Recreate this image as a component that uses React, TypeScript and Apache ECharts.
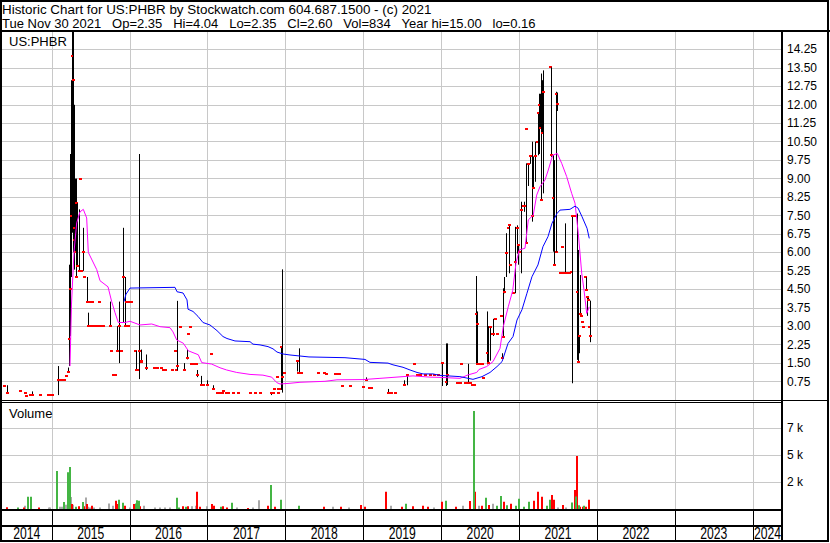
import React, { useEffect, useRef } from 'react';
import * as echarts from 'echarts';

const FONT = '"Liberation Sans", Arial, Helvetica, sans-serif';

// visible time window (decimal years)
const X_MIN = 2014.362;
const X_MAX = 2024.375;

const yearBoundaries = [2015, 2016, 2017, 2018, 2019, 2020, 2021, 2022, 2023, 2024];
const yearLabels = [2014, 2015, 2016, 2017, 2018, 2019, 2020, 2021, 2022, 2023, 2024];

const headerLine1 = 'Historic Chart for US:PHBR by Stockwatch.com 604.687.1500 - (c) 2021';
const headerFields = ['Tue Nov 30 2021', 'Op=2.35', 'Hi=4.04', 'Lo=2.35', 'Cl=2.60', 'Vol=834', 'Year hi=15.00', 'lo=0.16'];
const symbolLabel = 'US:PHBR';
const volumeLabel = 'Volume';

// [date (decimal year), low, high, close]
const priceBars: number[][] = [
  [2014.388, 0.57, 0.57, 0.57], [2014.430, 0.30, 0.60, 0.30], [2014.593, 0.37, 0.37, 0.37],
  [2014.657, 0.30, 0.30, 0.30], [2014.670, 0.16, 0.16, 0.16], [2014.721, 0.20, 0.20, 0.20],
  [2014.747, 0.20, 0.35, 0.20], [2014.850, 0.20, 0.20, 0.20], [2014.953, 0.20, 0.20, 0.20],
  [2014.978, 0.20, 0.20, 0.20], [2015.004, 0.20, 0.20, 0.20],
  [2015.085, 0.20, 1.38, 0.80], [2015.107, 0.80, 0.80, 0.80], [2015.132, 0.80, 0.80, 0.80],
  [2015.158, 0.80, 0.80, 0.80], [2015.184, 0.98, 0.98, 0.98], [2015.213, 1.14, 1.32, 1.14],
  [2015.226, 1.38, 5.50, 2.50], [2015.239, 2.60, 10.00, 4.50], [2015.248, 5.00, 13.00, 7.50],
  [2015.261, 6.80, 15.00, 14.00], [2015.273, 6.00, 15.00, 13.00], [2015.280, 6.00, 12.00, 6.50],
  [2015.286, 5.30, 9.00, 7.00], [2015.299, 6.00, 9.00, 6.00], [2015.308, 5.00, 9.00, 5.00],
  [2015.318, 8.00, 8.00, 8.00], [2015.329, 5.45, 8.00, 5.45], [2015.350, 5.25, 7.75, 5.25],
  [2015.359, 9.00, 9.00, 9.00], [2015.370, 5.25, 5.25, 5.25], [2015.398, 5.25, 7.00, 6.00],
  [2015.415, 5.00, 5.00, 5.00], [2015.457, 4.00, 5.00, 4.00], [2015.466, 3.00, 3.55, 3.00],
  [2015.480, 4.00, 4.00, 4.00], [2015.492, 4.00, 4.00, 4.00], [2015.505, 3.00, 3.00, 3.00],
  [2015.517, 4.00, 4.00, 4.00], [2015.530, 3.00, 3.00, 3.00], [2015.543, 3.00, 3.00, 3.00],
  [2015.582, 3.00, 3.00, 3.00], [2015.607, 4.00, 4.00, 4.00], [2015.620, 3.00, 3.00, 3.00],
  [2015.659, 3.00, 3.00, 3.00], [2015.748, 3.00, 4.00, 3.00], [2015.761, 2.00, 2.00, 2.00],
  [2015.787, 1.00, 1.00, 1.00], [2015.813, 1.00, 1.00, 1.00], [2015.834, 2.00, 3.00, 2.00],
  [2015.851, 2.00, 2.00, 2.00], [2015.868, 1.50, 4.00, 3.00], [2015.886, 2.00, 2.00, 2.00],
  [2015.915, 3.15, 7.00, 5.00], [2015.937, 3.00, 5.00, 3.00], [2015.954, 4.00, 4.00, 4.00],
  [2015.979, 3.00, 3.00, 3.00], [2015.992, 4.00, 4.00, 4.00], [2016.018, 4.00, 4.00, 4.00],
  [2016.069, 2.00, 2.00, 2.00], [2016.078, 1.20, 2.00, 1.20], [2016.095, 1.20, 1.20, 1.20],
  [2016.125, 0.85, 10.00, 2.00], [2016.140, 1.55, 1.55, 1.55], [2016.150, 1.60, 2.05, 1.60],
  [2016.207, 1.22, 1.85, 1.32], [2016.313, 1.32, 1.32, 1.32], [2016.352, 1.32, 1.32, 1.32],
  [2016.403, 1.32, 1.32, 1.32], [2016.429, 1.20, 1.20, 1.20], [2016.454, 1.20, 1.20, 1.20],
  [2016.544, 1.20, 1.20, 1.20], [2016.583, 2.00, 2.00, 2.00], [2016.600, 1.20, 1.20, 1.20],
  [2016.612, 1.20, 4.03, 1.37], [2016.647, 2.98, 2.98, 2.98], [2016.702, 1.20, 1.50, 1.20],
  [2016.733, 1.65, 2.05, 1.70], [2016.750, 2.70, 2.70, 2.70], [2016.769, 2.98, 2.98, 2.98],
  [2016.782, 1.47, 1.47, 1.47], [2016.814, 1.47, 1.47, 1.47], [2016.846, 1.47, 1.47, 1.47],
  [2016.869, 0.93, 1.22, 1.00], [2016.917, 0.61, 0.98, 0.61], [2016.942, 0.61, 0.61, 0.61],
  [2016.997, 0.60, 0.80, 0.61],
  [2017.041, 1.88, 1.88, 1.88], [2017.067, 0.45, 0.60, 0.45], [2017.122, 0.30, 0.30, 0.30],
  [2017.160, 0.30, 0.30, 0.30], [2017.186, 0.30, 0.30, 0.30], [2017.205, 0.38, 0.38, 0.38],
  [2017.238, 0.30, 0.30, 0.30], [2017.257, 0.30, 0.30, 0.30], [2017.327, 0.30, 0.30, 0.30],
  [2017.392, 0.30, 0.30, 0.30], [2017.546, 0.30, 0.30, 0.30], [2017.610, 0.30, 0.30, 0.30],
  [2017.674, 0.30, 0.30, 0.30], [2017.815, 0.20, 0.30, 0.30], [2017.837, 0.30, 0.30, 0.30],
  [2017.854, 0.44, 0.44, 0.44], [2017.888, 0.95, 0.95, 0.95], [2017.899, 0.44, 0.44, 0.44],
  [2017.909, 0.30, 0.30, 0.30], [2017.924, 0.44, 0.44, 0.44], [2017.944, 0.41, 2.14, 2.14],
  [2017.960, 0.30, 5.31, 0.95], [2017.976, 1.10, 1.10, 1.10],
  [2018.145, 1.16, 1.60, 1.60], [2018.162, 1.10, 1.10, 1.10], [2018.179, 1.10, 2.10, 1.10],
  [2018.196, 1.10, 1.10, 1.10], [2018.415, 1.10, 1.10, 1.10], [2018.496, 1.10, 1.10, 1.10],
  [2018.517, 1.05, 1.05, 1.05], [2018.637, 1.05, 1.05, 1.05], [2018.662, 1.05, 1.05, 1.05],
  [2018.688, 1.05, 1.05, 1.05], [2018.723, 0.58, 0.58, 0.58], [2018.829, 0.58, 0.58, 0.58],
  [2018.992, 0.54, 0.54, 0.54],
  [2019.035, 0.80, 0.92, 0.80], [2019.073, 0.50, 0.50, 0.50], [2019.099, 0.50, 0.50, 0.50],
  [2019.313, 0.30, 0.45, 0.30], [2019.356, 0.30, 0.30, 0.30], [2019.407, 0.30, 0.30, 0.30],
  [2019.523, 0.60, 0.80, 0.60], [2019.565, 0.60, 1.00, 1.00], [2019.651, 1.47, 1.47, 1.47],
  [2019.689, 1.00, 1.00, 1.00], [2019.728, 1.00, 1.00, 1.00], [2019.792, 1.00, 1.00, 1.00],
  [2019.856, 1.00, 1.00, 1.00], [2019.908, 1.00, 1.00, 1.00], [2019.965, 1.00, 1.00, 1.00],
  [2020.006, 0.57, 1.50, 1.50], [2020.058, 0.57, 2.30, 0.75], [2020.075, 0.61, 2.30, 1.00],
  [2020.203, 0.68, 0.68, 0.68], [2020.241, 0.68, 0.68, 0.68], [2020.250, 1.47, 1.47, 1.47],
  [2020.306, 0.68, 0.68, 0.68], [2020.348, 0.68, 1.47, 0.68], [2020.370, 0.68, 0.68, 0.68],
  [2020.396, 0.61, 0.61, 0.61], [2020.421, 0.61, 0.61, 0.61], [2020.443, 1.50, 5.04, 3.50],
  [2020.456, 1.50, 3.60, 3.10], [2020.466, 1.47, 1.47, 1.47], [2020.498, 1.47, 1.47, 1.47],
  [2020.524, 1.47, 1.47, 1.47], [2020.541, 0.88, 0.88, 0.88], [2020.584, 1.45, 3.60, 1.90],
  [2020.605, 1.50, 3.00, 1.50], [2020.627, 1.60, 2.98, 2.98], [2020.652, 2.70, 2.70, 2.70],
  [2020.669, 2.60, 3.30, 2.70], [2020.691, 3.28, 3.28, 3.28], [2020.717, 2.70, 2.70, 2.70],
  [2020.768, 3.40, 3.40, 3.40], [2020.781, 1.70, 1.90, 1.70], [2020.790, 2.58, 4.54, 2.58],
  [2020.807, 4.34, 5.00, 4.40], [2020.832, 5.00, 6.78, 5.96], [2020.854, 7.00, 7.00, 7.00],
  [2020.871, 5.15, 7.10, 7.10], [2020.883, 5.49, 5.49, 5.49], [2020.921, 4.34, 4.34, 4.34],
  [2020.947, 4.34, 7.04, 5.60], [2020.969, 5.95, 7.10, 7.00], [2020.982, 5.50, 6.30, 6.30],
  [2020.999, 6.00, 6.00, 6.00],
  [2021.021, 5.15, 8.06, 7.72], [2021.046, 7.90, 7.90, 7.90], [2021.063, 7.65, 8.06, 7.90],
  [2021.089, 6.40, 9.62, 6.40], [2021.095, 11.00, 11.00, 11.00], [2021.118, 8.70, 9.60, 9.60],
  [2021.140, 9.60, 9.90, 9.90], [2021.162, 7.25, 10.50, 7.48], [2021.182, 8.60, 9.90, 8.60],
  [2021.204, 8.87, 10.50, 9.90], [2021.226, 10.50, 10.50, 10.50], [2021.239, 9.95, 11.65, 11.65],
  [2021.255, 10.00, 12.45, 12.00], [2021.268, 11.05, 12.45, 11.05], [2021.281, 8.13, 13.27, 8.13],
  [2021.297, 10.84, 13.00, 10.84], [2021.311, 8.40, 13.40, 12.53], [2021.397, 13.52, 13.52, 13.52],
  [2021.409, 9.88, 13.52, 9.95], [2021.431, 6.03, 9.95, 8.20], [2021.448, 5.48, 9.75, 5.50],
  [2021.470, 6.03, 6.03, 6.03], [2021.480, 6.03, 12.53, 12.45], [2021.491, 11.75, 12.50, 12.05],
  [2021.525, 5.18, 5.18, 5.18], [2021.555, 6.23, 6.23, 6.23], [2021.570, 5.18, 5.18, 5.18],
  [2021.589, 5.15, 7.18, 5.18], [2021.615, 5.18, 5.18, 5.18], [2021.641, 5.18, 5.18, 5.18],
  [2021.666, 5.20, 5.20, 5.20], [2021.683, 0.68, 7.52, 7.49], [2021.698, 7.49, 7.49, 7.49],
  [2021.718, 7.49, 7.49, 7.49], [2021.740, 1.63, 7.58, 4.40], [2021.752, 1.56, 6.10, 1.56],
  [2021.765, 1.90, 2.60, 2.60], [2021.782, 3.50, 5.08, 3.50], [2021.797, 3.40, 3.40, 3.40],
  [2021.811, 3.16, 3.16, 3.16], [2021.824, 2.98, 3.00, 2.98], [2021.850, 4.99, 4.99, 4.99],
  [2021.863, 4.48, 4.99, 4.48], [2021.876, 3.42, 4.18, 4.18], [2021.888, 4.08, 4.15, 4.08],
  [2021.900, 2.98, 2.98, 2.98], [2021.912, 2.35, 4.04, 2.60],
];

// short moving average (magenta)
const maShort: number[][] = [
  [2015.235, 1.38], [2015.254, 3.9], [2015.286, 6.0], [2015.321, 7.2], [2015.363, 7.65],
  [2015.406, 7.75], [2015.449, 7.4], [2015.470, 6.0], [2015.578, 5.3], [2015.620, 4.85],
  [2015.723, 4.6], [2015.770, 4.0], [2015.813, 3.55], [2015.855, 3.15], [2015.941, 3.15],
  [2016.005, 3.2], [2016.134, 3.05], [2016.284, 3.09], [2016.391, 2.98], [2016.519, 2.94],
  [2016.557, 2.77], [2016.605, 2.44], [2016.689, 2.31], [2016.754, 2.0], [2016.882, 1.84],
  [2016.926, 1.52], [2017.054, 1.46], [2017.161, 1.31], [2017.246, 1.22], [2017.375, 1.12],
  [2017.546, 1.04], [2017.712, 1.01], [2017.824, 0.93], [2017.888, 0.71], [2017.931, 0.65],
  [2018.059, 0.68], [2018.187, 0.72], [2018.508, 0.76], [2018.662, 0.82], [2018.996, 0.83],
  [2019.214, 0.88], [2019.510, 0.95], [2019.638, 0.98], [2019.856, 0.93], [2019.985, 0.92],
  [2020.241, 0.88], [2020.344, 1.02], [2020.456, 1.12], [2020.485, 1.24], [2020.584, 1.36],
  [2020.665, 1.56], [2020.755, 2.1], [2020.797, 2.98], [2020.861, 3.79], [2020.918, 4.45],
  [2020.960, 5.56], [2021.003, 6.1], [2021.076, 6.17], [2021.118, 7.32], [2021.182, 7.52],
  [2021.226, 8.33], [2021.268, 8.67], [2021.332, 8.94], [2021.375, 9.35], [2021.431, 9.95],
  [2021.491, 10.02], [2021.547, 9.62], [2021.611, 9.08], [2021.675, 8.4], [2021.718, 8.0],
  [2021.760, 6.78], [2021.804, 5.15], [2021.833, 4.48], [2021.868, 3.52], [2021.901, 3.79],
];

// long moving average (blue)
const maLong: number[][] = [
  [2015.928, 4.0], [2015.954, 4.3], [2016.005, 4.55], [2016.583, 4.58], [2016.609, 4.4],
  [2016.686, 4.35], [2016.737, 4.07], [2016.750, 3.69], [2016.814, 3.6], [2016.878, 3.4],
  [2016.942, 3.15], [2017.032, 3.05], [2017.122, 2.82], [2017.199, 2.58], [2017.250, 2.5],
  [2017.353, 2.4], [2017.546, 2.37], [2017.584, 2.27], [2017.674, 2.24], [2017.777, 2.17],
  [2017.841, 2.08], [2017.892, 1.95], [2017.969, 1.87], [2018.059, 1.83], [2018.303, 1.75],
  [2018.765, 1.72], [2019.022, 1.65], [2019.086, 1.53], [2019.317, 1.5], [2019.381, 1.43],
  [2019.510, 1.33], [2019.600, 1.22], [2019.690, 1.12], [2019.767, 1.06], [2019.895, 1.06],
  [2019.985, 1.0], [2020.241, 0.95], [2020.408, 0.84], [2020.524, 0.95], [2020.627, 1.12],
  [2020.717, 1.36], [2020.781, 1.56], [2020.858, 2.3], [2020.922, 2.58], [2020.973, 3.25],
  [2021.037, 3.67], [2021.101, 4.34], [2021.165, 5.01], [2021.242, 5.49], [2021.306, 6.23],
  [2021.371, 6.64], [2021.422, 7.18], [2021.486, 7.58], [2021.525, 7.72], [2021.653, 7.75],
  [2021.718, 7.88], [2021.757, 7.8], [2021.808, 7.45], [2021.872, 6.98], [2021.901, 6.57],
];

// volume on up days (green)
const volUp: number[][] = [
  [2014.567, 150], [2014.702, 1140], [2014.740, 1140], [2015.072, 3520], [2015.162, 640],
  [2015.213, 3400], [2015.231, 3890], [2015.312, 200], [2015.398, 640], [2015.864, 860],
  [2015.919, 570], [2016.076, 500], [2016.101, 800], [2016.118, 770], [2016.605, 1050],
  [2016.628, 150], [2016.718, 200], [2017.169, 200], [2017.311, 590], [2017.820, 2220],
  [2017.949, 860], [2018.173, 290], [2019.552, 480], [2020.061, 770], [2020.415, 9070],
  [2020.570, 1050], [2020.720, 290], [2020.768, 1210], [2020.842, 350], [2020.958, 290],
  [2021.005, 960], [2021.059, 200], [2021.127, 670], [2021.352, 290], [2021.399, 860],
  [2021.675, 600], [2021.733, 1150], [2021.767, 350], [2021.832, 300],
];

// volume on down days (red)
const volDown: number[][] = [
  [2014.422, 160], [2014.644, 150], [2014.841, 150], [2015.264, 470], [2015.347, 250],
  [2015.415, 250], [2015.449, 470], [2015.517, 300], [2015.822, 770], [2015.851, 470],
  [2015.947, 300], [2016.056, 470], [2016.134, 250], [2016.689, 250], [2016.754, 250],
  [2016.861, 1600], [2016.904, 200], [2017.058, 470], [2017.083, 300], [2017.203, 250],
  [2017.254, 150], [2017.524, 100], [2017.777, 300], [2017.866, 200], [2018.492, 200],
  [2018.716, 200], [2018.974, 380], [2019.022, 200], [2019.294, 1600], [2019.497, 200],
  [2019.633, 250], [2019.769, 290], [2019.837, 200], [2020.006, 670], [2020.190, 200],
  [2020.367, 740], [2020.434, 1600], [2020.529, 290], [2020.617, 380], [2020.801, 670],
  [2020.890, 480], [2021.195, 770], [2021.249, 1600], [2021.297, 1140], [2021.419, 1290],
  [2021.445, 860], [2021.569, 380], [2021.723, 1760], [2021.741, 4910], [2021.788, 200],
  [2021.814, 200], [2021.859, 200], [2021.893, 860],
];

// volume on unchanged days (grey)
const volFlat: number[][] = [
  [2014.661, 290], [2014.959, 150], [2014.978, 150], [2015.107, 200], [2015.132, 200],
  [2015.180, 400], [2015.248, 1110], [2015.277, 400], [2015.440, 1060], [2015.466, 200],
  [2015.492, 150], [2015.543, 150], [2015.620, 150], [2015.739, 500], [2015.783, 300],
  [2016.005, 150], [2016.189, 300], [2016.326, 150], [2016.391, 150], [2016.454, 150],
  [2016.519, 150], [2016.797, 250], [2016.852, 300], [2016.990, 250], [2017.375, 150],
  [2017.588, 150], [2017.657, 800], [2018.615, 200], [2018.818, 150], [2019.362, 290],
  [2019.905, 150], [2020.279, 290], [2020.481, 300], [2020.665, 480], [2021.500, 150],
  [2021.602, 150],
];

const GRID_GRAY = '#c8c8c8';

function vGridSeries(gridIndex: number, color: string) {
  return {
    type: 'custom',
    xAxisIndex: gridIndex,
    yAxisIndex: gridIndex,
    silent: true,
    z: 1,
    data: yearBoundaries.map((y) => [y, 0]),
    encode: { x: 0, y: 1 },
    renderItem: (params: any, api: any) => {
      const cs = params.coordSys;
      const x = Math.round(api.coord([api.value(0), 0])[0]) + 0.5;
      return {
        type: 'line',
        shape: { x1: x, y1: cs.y, x2: x, y2: cs.y + cs.height },
        style: { stroke: color, lineWidth: 1 },
      };
    },
  };
}

function volSeries(data: number[][], color: string, z: number) {
  return {
    type: 'custom',
    xAxisIndex: 1,
    yAxisIndex: 1,
    silent: true,
    z,
    data,
    encode: { x: 0, y: 1 },
    renderItem: (params: any, api: any) => {
      const top = api.coord([api.value(0), api.value(1)]);
      const base = api.coord([api.value(0), 0]);
      const x = Math.round(top[0]) - 1;
      return {
        type: 'rect',
        shape: { x, y: top[1], width: 2, height: base[1] - top[1] },
        style: { fill: color },
      };
    },
  };
}

export default function App() {
  const ref = useRef<HTMLDivElement>(null);

  useEffect(() => {
    if (!ref.current) return;
    const chart = echarts.init(ref.current, undefined, { renderer: 'svg' });

    const sp = '\u00a0\u00a0\u00a0';
    const headerLine2 = headerFields.join(sp);

    const yearLabelData = yearLabels.map((y) => {
      const lo = Math.max(y, X_MIN);
      const hi = Math.min(y + 1, X_MAX);
      return [(lo + hi) / 2, 0.5, y];
    });

    const option: any = {
      animation: false,
      backgroundColor: '#ffffff',
      grid: [
        { left: 2, right: 48, top: 31, height: 369 },
        { left: 2, right: 48, top: 402, height: 107 },
        { left: 2, right: 48, top: 510, height: 31 },
      ],
      xAxis: [0, 1, 2].map((i) => ({
        type: 'value',
        gridIndex: i,
        min: X_MIN,
        max: X_MAX,
        show: false,
      })),
      yAxis: [
        {
          type: 'value',
          gridIndex: 0,
          position: 'right',
          min: 0,
          max: 15,
          interval: 0.75,
          axisLine: { show: false },
          axisTick: { show: false },
          axisLabel: {
            margin: 5,
            color: '#000',
            fontSize: 12,
            fontFamily: FONT,
            formatter: (v: number) => (v < 0.01 || v > 14.9 ? '' : v.toFixed(2)),
          },
          splitLine: { show: true, lineStyle: { color: GRID_GRAY, width: 1 } },
        },
        {
          type: 'value',
          gridIndex: 1,
          position: 'right',
          min: 0,
          max: 9907,
          interval: 2500,
          axisLine: { show: false },
          axisTick: { show: false },
          axisLabel: {
            margin: 5,
            color: '#000',
            fontSize: 12,
            fontFamily: FONT,
            formatter: (v: number) =>
              v > 0 && v < 9000 && Math.abs(v % 2500) < 1e-6 ? Math.floor(v / 1000) + ' k' : '',
          },
          splitLine: { show: true, lineStyle: { color: GRID_GRAY, width: 1 } },
        },
        { type: 'value', gridIndex: 2, min: 0, max: 2, show: false },
      ],
      series: [
        vGridSeries(0, GRID_GRAY),
        vGridSeries(1, GRID_GRAY),
        vGridSeries(2, '#000000'),
        {
          type: 'custom',
          xAxisIndex: 2,
          yAxisIndex: 2,
          silent: true,
          z: 3,
          data: yearLabelData,
          encode: { x: 0, y: 1 },
          renderItem: (params: any, api: any) => {
            const p = api.coord([api.value(0), api.value(1)]);
            return {
              type: 'text',
              x: p[0],
              y: p[1],
              scaleX: 0.76,
              style: {
                text: String(api.value(2)),
                fill: '#000',
                fontSize: 16,
                fontFamily: FONT,
                align: 'center',
                verticalAlign: 'middle',
              },
            };
          },
        },
        {
          type: 'custom',
          xAxisIndex: 0,
          yAxisIndex: 0,
          silent: true,
          z: 3,
          data: priceBars,
          encode: { x: 0, y: [1, 2, 3] },
          renderItem: (params: any, api: any) => {
            const t = api.value(0);
            const lo = api.value(1);
            const hi = api.value(2);
            const cl = api.value(3);
            const pH = api.coord([t, hi]);
            const pL = api.coord([t, lo]);
            const pC = api.coord([t, cl]);
            const x = Math.round(pH[0]);
            const children: any[] = [];
            if (hi > lo) {
              children.push({
                type: 'line',
                shape: { x1: x + 0.5, y1: pH[1], x2: x + 0.5, y2: pL[1] },
                style: { stroke: '#000', lineWidth: 1 },
              });
            }
            children.push({
              type: 'rect',
              shape: { x: x - 1, y: Math.round(pC[1]) - 1, width: 3, height: 2 },
              style: { fill: '#ff0000' },
            });
            return { type: 'group', children };
          },
        },
        {
          type: 'line',
          xAxisIndex: 0,
          yAxisIndex: 0,
          data: maShort,
          showSymbol: false,
          silent: true,
          z: 5,
          lineStyle: { color: '#ff00ff', width: 1 },
        },
        {
          type: 'line',
          xAxisIndex: 0,
          yAxisIndex: 0,
          data: maLong,
          showSymbol: false,
          silent: true,
          z: 5,
          lineStyle: { color: '#0000ff', width: 1 },
        },
        volSeries(volFlat, '#a8a8a8', 3),
        volSeries(volDown, '#ff0000', 4),
        volSeries(volUp, '#44b544', 5),
      ],
      graphic: [
        {
          type: 'rect',
          z: 100,
          silent: true,
          shape: { x: 1, y: 1, width: 827, height: 540 },
          style: { fill: 'none', stroke: '#000', lineWidth: 2 },
        },
        { type: 'line', z: 100, silent: true, shape: { x1: 0, y1: 31, x2: 830, y2: 31 }, style: { stroke: '#000', lineWidth: 2 } },
        { type: 'line', z: 100, silent: true, shape: { x1: 782, y1: 31, x2: 782, y2: 542 }, style: { stroke: '#000', lineWidth: 2 } },
        { type: 'line', z: 100, silent: true, shape: { x1: 0, y1: 400.5, x2: 828, y2: 400.5 }, style: { stroke: '#000', lineWidth: 1 } },
        { type: 'line', z: 100, silent: true, shape: { x1: 0, y1: 402.5, x2: 782, y2: 402.5 }, style: { stroke: '#000', lineWidth: 1 } },
        { type: 'line', z: 100, silent: true, shape: { x1: 0, y1: 510, x2: 782, y2: 510 }, style: { stroke: '#000', lineWidth: 2 } },
        { type: 'line', z: 100, silent: true, shape: { x1: 0, y1: 526, x2: 782, y2: 526 }, style: { stroke: '#000', lineWidth: 2 } },
        {
          type: 'text',
          z: 100,
          silent: true,
          x: 2,
          y: 9,
          style: { text: headerLine1, fill: '#000', fontSize: 13.4, fontFamily: FONT, verticalAlign: 'middle' },
        },
        {
          type: 'text',
          z: 100,
          silent: true,
          x: 2,
          y: 23,
          style: { text: headerLine2, fill: '#000', fontSize: 13, fontFamily: FONT, verticalAlign: 'middle' },
        },
        {
          type: 'text',
          z: 100,
          silent: true,
          x: 9,
          y: 41,
          style: { text: symbolLabel, fill: '#000', fontSize: 13, fontFamily: FONT, verticalAlign: 'middle' },
        },
        {
          type: 'text',
          z: 100,
          silent: true,
          x: 9,
          y: 413,
          style: { text: volumeLabel, fill: '#000', fontSize: 13, fontFamily: FONT, verticalAlign: 'middle' },
        },
      ],
    };

    chart.setOption(option);
    return () => {
      chart.dispose();
    };
  }, []);

  return (
    <div
      ref={ref}
      style={{ position: 'absolute', left: 0, top: 0, width: 830, height: 543, background: '#fff' }}
    />
  );
}
